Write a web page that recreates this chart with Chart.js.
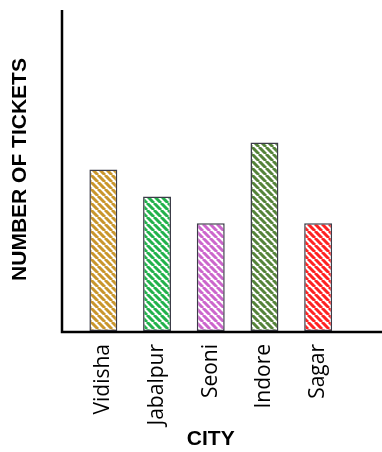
<!DOCTYPE html>
<html>
<head>
<meta charset="utf-8">
<script src="https://cdn.jsdelivr.net/npm/chart.js@4.4.1/dist/chart.umd.min.js"></script>
<style>
  html, body { margin: 0; padding: 0; background: #fff; }
  #wrap { width: 382px; height: 452px; }
</style>
</head>
<body>
<div id="wrap"><canvas id="barChart" width="382" height="452"></canvas></div>
<script>
// données
const cities = ["Vidisha", "Jabalpur", "Seoni", "Indore", "Sagar"];
const tickets = [6, 5, 4, 7, 4];
const barColors = ["#c9962c", "#22b24c", "#cc66cc", "#55833a", "#ff2222"];

// motif hachuré diagonal
function makeHatch(color) {
    const s = 7;
    const c = document.createElement("canvas");
    c.width = s; c.height = s;
    const ctx = c.getContext("2d");
    ctx.fillStyle = "#fff";
    ctx.fillRect(0, 0, s, s);
    ctx.strokeStyle = color;
    ctx.lineWidth = 3;
    ctx.beginPath();
    for (const k of [-s, 0, s]) {
        ctx.moveTo(k, 0);
        ctx.lineTo(k + s, s);
    }
    ctx.stroke();
    return c.getContext("2d").createPattern(c, "repeat");
}

// axes noirs dessinés à la main (comme l'original)
const axisLines = {
    id: "axisLines",
    afterDatasetsDraw(chart) {
        const { ctx, chartArea } = chart;
        ctx.save();
        ctx.strokeStyle = "#000";
        ctx.lineWidth = 2.5;
        ctx.beginPath();
        ctx.moveTo(62, 10);
        ctx.lineTo(62, chartArea.bottom + 1);
        ctx.lineTo(chart.width, chartArea.bottom + 1);
        ctx.stroke();
        ctx.restore();
    }
};

new Chart(document.getElementById("barChart"), {
    type: "bar",
    data: {
        labels: cities,
        datasets: [{
            data: tickets,
            backgroundColor: barColors.map(makeHatch),
            borderColor: "#3c3c48",
            borderWidth: 1.5,
            borderSkipped: false,
            categoryPercentage: 1,
            barPercentage: 0.52
        }]
    },
    options: {
        responsive: false,
        animation: false,
        layout: { padding: { left: 0, right: 37, top: 8, bottom: 0 } },
        plugins: { legend: { display: false }, tooltip: { enabled: false } },
        scales: {
            x: {
                grid: { display: false },
                border: { display: false },
                ticks: {
                    minRotation: 90,
                    maxRotation: 90,
                    padding: 5,
                    color: "#000",
                    font: { family: "'Open Sans'", size: 21 }
                },
                title: {
                    display: true,
                    text: "CITY",
                    color: "#000",
                    padding: 0,
                    font: { family: "'Liberation Sans'", size: 21, weight: "bold" }
                },
                afterFit(scale) { scale.height = 121; }
            },
            y: {
                min: 0,
                max: 12,
                grid: { display: false },
                border: { display: false },
                ticks: { display: false },
                title: {
                    display: true,
                    text: "NUMBER OF TICKETS",
                    color: "#000",
                    padding: { top: 8, bottom: 0 },
                    font: { family: "'Liberation Sans'", size: 21, weight: "bold" }
                },
                afterFit(scale) { scale.width = 76.5; }
            }
        }
    },
    plugins: [axisLines]
});
</script>
</body>
</html>
